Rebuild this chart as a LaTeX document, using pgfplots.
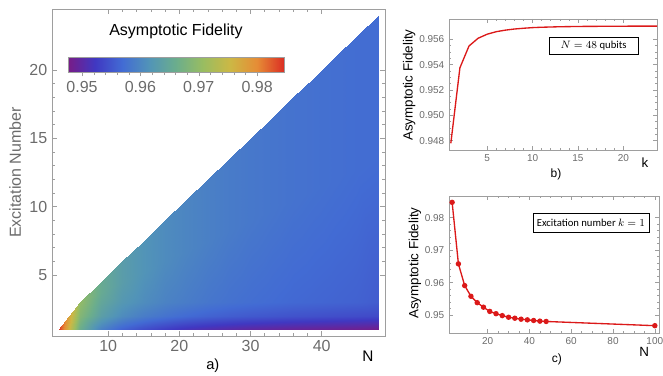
\documentclass[border=0pt]{standalone}
\usepackage{fontspec}
\setmainfont{Liberation Sans}
\newfontfamily\carlito{Carlito}
\usepackage{pgfplots}
\pgfplotsset{compat=1.18}
\usetikzlibrary{calc}

\definecolor{tickgray}{gray}{0.42}
\definecolor{framegray}{gray}{0.62}
\definecolor{mred}{rgb}{0.86,0.1,0.1}

\pgfplotsset{
  colormap={mrainbow}{rgb=(0.471,0.108,0.527) rgb=(0.25,0.22,0.76) rgb=(0.26,0.42,0.83) rgb=(0.32,0.58,0.72) rgb=(0.42,0.68,0.55) rgb=(0.60,0.74,0.38) rgb=(0.80,0.72,0.27) rgb=(0.90,0.55,0.21) rgb=(0.86,0.18,0.14)},
  mma/.style={scale only axis, anchor=south west,
    axis line style={framegray, line width=0.5pt},
    tick style={framegray, line width=0.4pt},
    tick align=inside, major tick length=4pt, minor tick length=2.2pt,
    ticklabel style={text=tickgray},
    /pgf/number format/assume math mode=true,
    scaled ticks=false,
  },
}

\begin{document}
\begin{tikzpicture}
\path[use as bounding box] (0,0) rectangle (497.25pt,281.25pt);

% ---------------- panel a ----------------
\begin{axis}[mma, at={(39pt,29.25pt)}, width=249.75pt, height=245.25pt,
  xmin=2.1, xmax=48.9, ymin=0.54, ymax=24.46,
  xtick={10,20,30,40}, minor x tick num=4,
  ytick={5,10,15,20}, minor y tick num=4,
  ticklabel style={font=\fontsize{12}{14}\selectfont},
  xlabel={N}, xlabel style={at={(axis description cs:0.949,-0.061)}, anchor=center, font=\fontsize{11.5}{14}\selectfont},
  ylabel={Excitation Number}, ylabel style={at={(axis description cs:-0.111,0.5)}, anchor=center, text=tickgray, font=\fontsize{12}{14}\selectfont},
  axis on top,
  colormap name=mrainbow, point meta min=0.9476, point meta max=0.9846,
  colorbar horizontal,
  colorbar style={at={($(parent axis.north west)+(12pt,-27.75pt)$)}, anchor=north west,
     width=162pt, height=11.25pt,
     xtick={0.95,0.96,0.97,0.98}, minor x tick num=4, xtick pos=left, tick align=outside,
     major tick length=3pt, minor tick length=2pt,
     axis line style={framegray}, tick style={framegray},
     xticklabel style={font=\fontsize{12}{14}\selectfont, text=tickgray, /pgf/number format/.cd, fixed, fixed zerofill, precision=2, assume math mode=true},
     title={Asymptotic Fidelity}, title style={at={(0.5,1)}, anchor=base, yshift=10.5pt, font=\fontsize{12}{14}\selectfont},
  },
  extra description/.code={\node[font=\fontsize{11}{13}\selectfont] at (0.483,-0.092) {a)};},
]
\addplot[surf, shader=interp, point meta=explicit] table[x=N, y=k, meta=F] {
N k F
3 1 0.9847
3 1 0.9847
3 1 0.9847
3 1 0.9847
3 1 0.9847

6 1 0.9658
6 2 0.9685
6 3 0.9700
6 3 0.9700
6 3 0.9700

9 1 0.9591
9 2 0.9633
9 3 0.9647
9 3.75 0.9655
9 4.5 0.9655

12 1 0.9558
12 2 0.9605
12 3 0.9621
12 4.5 0.9630
12 6 0.9630

15 1 0.9538
15 2 0.9588
15 3 0.9606
15 5.25 0.9615
15 7.5 0.9615

18 1 0.9524
18 2 0.9577
18 3 0.9595
18 6 0.9605
18 9 0.9605

21 1 0.9512
21 2 0.9568
21 3 0.9588
21 6.75 0.9598
21 10.5 0.9598

24 1 0.9504
24 2 0.9561
24 3 0.9581
24 7.5 0.9592
24 12 0.9592

27 1 0.9498
27 2 0.9556
27 3 0.9576
27 8.25 0.9587
27 13.5 0.9587

30 1 0.9493
30 2 0.9552
30 3 0.9572
30 9 0.9583
30 15 0.9583

33 1 0.9490
33 2 0.9549
33 3 0.9569
33 9.75 0.9580
33 16.5 0.9580

36 1 0.9487
36 2 0.9546
36 3 0.9566
36 10.5 0.9577
36 18 0.9577

39 1 0.9485
39 2 0.9544
39 3 0.9564
39 11.25 0.9575
39 19.5 0.9575

42 1 0.9483
42 2 0.9542
42 3 0.9562
42 12 0.9573
42 21 0.9573

45 1 0.9481
45 2 0.9540
45 3 0.9560
45 12.75 0.9571
45 22.5 0.9571

48 1 0.9478
48 2 0.9538
48 3 0.9555
48 13.5 0.9570
48 24 0.9570
};
\end{axis}

% ---------------- panel b ----------------
\begin{axis}[mma, at={(336.75pt,168.75pt)}, width=156pt, height=98.25pt,
  xmin=0.8, xmax=23.7, ymin=0.94727, ymax=0.9576,
  xtick={5,10,15,20}, minor x tick num=4,
  ytick={0.948,0.950,0.952,0.954,0.956}, minor y tick num=3,
  major tick length=3pt, minor tick length=1.6pt,
  ticklabel style={font=\fontsize{7.5}{9}\selectfont},
  yticklabel style={/pgf/number format/.cd, fixed, fixed zerofill, precision=3},
  xlabel={k}, xlabel style={at={(axis description cs:0.942,-0.099)}, anchor=center, font=\fontsize{10}{12}\selectfont},
  ylabel={Asymptotic Fidelity}, ylabel style={at={(axis description cs:-0.192,0.496)}, anchor=center, font=\fontsize{10}{12}\selectfont},
  extra description/.code={
    \node[font=\fontsize{9}{11}\selectfont] at (0.514,-0.183) {b)};
    \node[draw=black, line width=0.6pt, minimum width=66.75pt, minimum height=12.75pt, inner sep=0pt, font=\carlito\fontsize{8}{10}\selectfont] at (0.695,0.798) {$N = 48$ qubits};
  },
]
\addplot[mred, line width=1pt] coordinates {
(1,0.94780) (2,0.95375) (3,0.95547) (4,0.95608) (5,0.95640) (6,0.95660)
(7,0.95672) (8,0.95681) (9,0.95687) (10,0.95692) (11,0.95695) (12,0.95697)
(13,0.95699) (14,0.95700) (15,0.95701) (16,0.95702) (17,0.95702) (18,0.95703)
(19,0.95703) (20,0.95703) (21,0.95704) (22,0.95704) (23,0.95704) (24,0.95704)
};
\end{axis}

% ---------------- panel c ----------------
\begin{axis}[mma, at={(336.75pt,31.5pt)}, width=157.5pt, height=102.75pt,
  xmin=1.5, xmax=102, ymin=0.94444, ymax=0.9867,
  xtick={20,40,60,80,100}, minor x tick num=3,
  ytick={0.95,0.96,0.97,0.98}, minor y tick num=4,
  major tick length=3pt, minor tick length=1.6pt,
  ticklabel style={font=\fontsize{7.5}{9}\selectfont},
  yticklabel style={/pgf/number format/.cd, fixed, fixed zerofill, precision=2},
  xlabel={N}, xlabel style={at={(axis description cs:0.929,-0.139)}, anchor=center, font=\fontsize{10}{12}\selectfont},
  ylabel={Asymptotic Fidelity}, ylabel style={at={(axis description cs:-0.162,0.511)}, anchor=center, font=\fontsize{10}{12}\selectfont},
  extra description/.code={
    \node[font=\fontsize{9}{11}\selectfont] at (0.514,-0.190) {c)};
    \node[draw=black, line width=0.6pt, minimum width=87pt, minimum height=14.25pt, inner sep=0pt, font=\carlito\fontsize{8}{10}\selectfont] at (0.676,0.807) {Excitation number $k = 1$};
  },
]
\addplot[mred, line width=1pt, mark=*, mark size=1.5pt] coordinates {
(3,0.98475) (6,0.96577) (9,0.95907) (12,0.95577) (15,0.95380) (18,0.95240)
(21,0.95110) (24,0.95040) (27,0.94980) (30,0.94930) (33,0.94900) (36,0.94870)
(39,0.94850) (42,0.94830) (45,0.94810) (48,0.94800) (100,0.94670)
};
\end{axis}
\end{tikzpicture}
\end{document}
